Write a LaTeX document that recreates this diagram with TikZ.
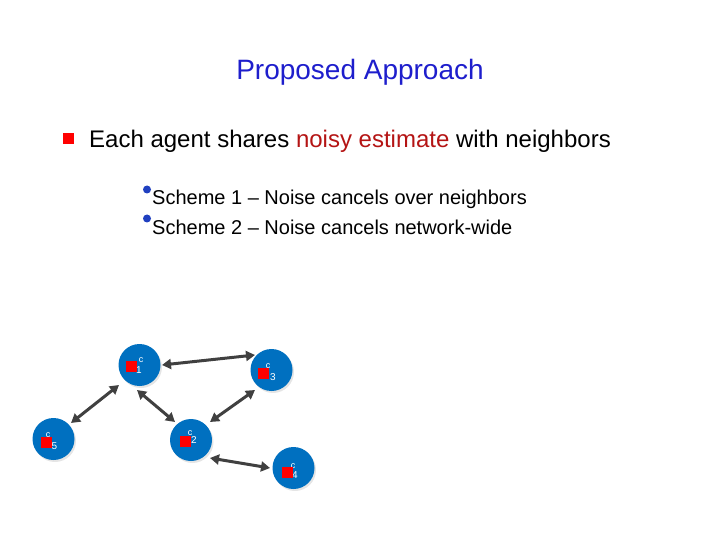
\documentclass[tikz,border=0pt]{standalone}
\usepackage{fontspec}
\setmainfont{Liberation Sans}
\usetikzlibrary{arrows.meta,calc}
\definecolor{titleblue}{RGB}{30,30,204}
\definecolor{noisered}{RGB}{180,20,20}
\definecolor{nodeblue}{RGB}{0,112,192}
\definecolor{arrowgray}{RGB}{64,64,64}
\definecolor{dotblue}{RGB}{32,64,192}
\begin{document}
\begin{tikzpicture}[x=1pt,y=-1pt,
  agent/.style={circle,fill=nodeblue,minimum size=42pt,inner sep=0pt,outer sep=0pt},
  shade/.style={circle,fill=black!10,minimum size=42pt,inner sep=0pt},
  marker/.style={fill=red,minimum size=11pt,inner sep=0pt},
  link/.style={draw=arrowgray,line width=3pt,{Triangle[length=9pt,width=10pt]}-{Triangle[length=9pt,width=10pt]}},
  clab/.style={text=white,inner sep=0pt,font=\fontsize{9}{9}\selectfont},
  dlab/.style={text=white,inner sep=0pt,font=\fontsize{10}{10}\selectfont},
  bodytext/.style={anchor=base west,inner sep=0pt}]
\useasboundingbox (0,0) rectangle (720,540);

% title
\node[anchor=base,inner sep=0pt,text=titleblue,font=\fontsize{28}{32}\selectfont] (title) at (360,79.5) {Proposed Approach};

% main bullet
\node[marker] (b0) at (68,139) {};
\node[bodytext,font=\fontsize{24}{28}\selectfont] (main) at (89,147.5) {Each agent shares \textcolor{noisered}{noisy estimate} with neighbors};

% sub bullets
\fill[dotblue] (147,189.5) circle (4);
\fill[dotblue] (147,218.5) circle (4);
\node[bodytext,font=\fontsize{20}{24}\selectfont] (s1) at (152,205) {Scheme 1 – Noise cancels over neighbors};
\node[bodytext,font=\fontsize{20}{24}\selectfont] (s2) at (152,234) {Scheme 2 – Noise cancels network-wide};

% shadows
\node[shade] at (141,367) {};
\node[shade] at (273,372) {};
\node[shade] at (55,441) {};
\node[shade] at (192.5,442) {};
\node[shade] at (295,470) {};

% agents
\node[agent] (n1) at (139.5,365) {};
\node[agent] (n3) at (271.5,370) {};
\node[agent] (n5) at (53.5,439) {};
\node[agent] (n2) at (191,440) {};
\node[agent] (n4) at (293.5,468) {};

% labels
\node[clab] (c1) at ($(n1)+(1.5,-5)$) {c};
\node[dlab] (d1) at ($(n1)+(-0.5,5)$) {1};
\node[clab] (c3) at ($(n3)+(-3.5,-4)$) {c};
\node[dlab] (d3) at ($(n3)+(1.5,7)$) {3};
\node[clab] (c5) at ($(n5)+(-5.5,-4)$) {c};
\node[dlab] (d5) at ($(n5)+(1,7.5)$) {5};
\node[clab] (c2) at ($(n2)+(-1,-6.5)$) {c};
\node[dlab] (d2) at ($(n2)+(3,0.5)$) {2};
\node[clab] (c4) at ($(n4)+(-0.5,-2)$) {c};
\node[dlab] (d4) at ($(n4)+(1.5,7.5)$) {4};

% red markers
\node[marker] (m1) at (131.5,366.5) {};
\node[marker] (m3) at (263,373) {};
\node[marker] (m5) at (46,442) {};
\node[marker] (m2) at (185.5,441.5) {};
\node[marker] (m4) at (287,472.5) {};

% connector ends
\coordinate (a13s) at ($(n1)+(22.5,0)$);
\coordinate (a13e) at ($(n3)+(-16.5,-15)$);
\coordinate (a15s) at ($(n1)+(-20.5,20)$);
\coordinate (a15e) at ($(n5)+(17.5,-16)$);
\coordinate (a12s) at ($(n1)+(-2.5,25)$);
\coordinate (a12e) at ($(n2)+(-16,-18)$);
\coordinate (a32s) at ($(n3)+(-16.5,20)$);
\coordinate (a32e) at ($(n2)+(19,-18)$);
\coordinate (a24s) at ($(n2)+(19,18)$);
\coordinate (a24e) at ($(n4)+(-23.5,0)$);

\draw[link] (a13s) -- (a13e);
\draw[link] (a15s) -- (a15e);
\draw[link] (a12s) -- (a12e);
\draw[link] (a32s) -- (a32e);
\draw[link] (a24s) -- (a24e);
\end{tikzpicture}
\end{document}
